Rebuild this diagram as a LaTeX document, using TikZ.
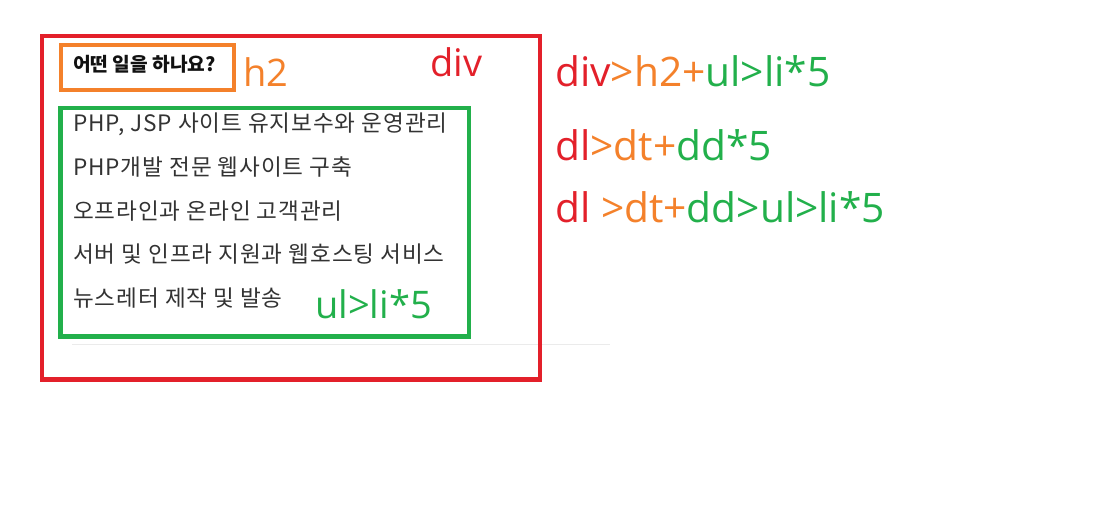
\documentclass[tikz,border=0pt]{standalone}
\usepackage{fontspec}
\setmainfont{Noto Sans CJK KR}
\newfontfamily\lab{Open Sans}
\definecolor{cred}{HTML}{E3202A}
\definecolor{corg}{HTML}{F4812B}
\definecolor{cgrn}{HTML}{22B04B}
\definecolor{ctxt}{HTML}{333333}
\definecolor{ctitle}{HTML}{111111}
\tikzset{
  box/.style={draw=#1, line width=4.5pt, inner sep=0pt, anchor=north west},
  item/.style={anchor=base west, inner sep=0pt, text=ctxt, font=\fontsize{22.6}{24}\selectfont\addfontfeatures{LetterSpace=4}},
  lbl/.style={anchor=base west, inner sep=0pt, font=\lab\fontsize{38}{40}\selectfont},
  code/.style={anchor=base west, inner sep=0pt, font=\lab\fontsize{40.7}{44}\selectfont},
}
\begin{document}
\begin{tikzpicture}[x=1pt,y=-1pt]
\useasboundingbox[fill=white] (0,0) rectangle (1119,511);
% separator line
\coordinate (sepL) at (72,344.3);
\coordinate (sepR) at (610,344.3);
\draw[black!8, line width=1pt] (sepL) -- (sepR);
% boxes
\node[box=cred, minimum width=498pt, minimum height=343pt] (div) at (39.5,34) {};
\node[box=corg, minimum width=173pt, minimum height=44.5pt] (h2box) at (58.5,43) {};
\node[box=cgrn, minimum width=408.5pt, minimum height=228.5pt] (ulbox) at (58,105.5) {};
% title
\node[anchor=base west, inner sep=0pt, text=ctitle, font=\bfseries\fontsize{19.2}{22}\selectfont] (title) at (73,71) {어떤 일을 하나요?};
% list
\node[item] (li1) at (73,131) {PHP, JSP 사이트 유지보수와 운영관리};
\node[item] (li2) at (73,175) {PHP개발 전문 웹사이트 구축};
\node[item] (li3) at (73,219) {오프라인과 온라인 고객관리};
\node[item] (li4) at (73,262) {서버 및 인프라 지원과 웹호스팅 서비스};
\node[item] (li5) at (73,306) {뉴스레터 제작 및 발송};
% labels
\node[lbl, text=corg] (lh2) at (243,87) {h2};
\node[lbl, text=cred] (ldiv) at (430,77) {div};
\node[lbl, text=cgrn] (lul) at (315,318) {ul>li*5};
% code lines
\node[code] (c1) at (555,87) {\textcolor{cred}{div}\textcolor{corg}{>h2+}\textcolor{cgrn}{ul>li*5}};
\node[code] (c2) at (555,160) {\textcolor{cred}{dl}\textcolor{corg}{>dt+}\textcolor{cgrn}{dd*5}};
\node[code] (c3) at (555,222) {\textcolor{cred}{dl }\textcolor{corg}{>dt+}\textcolor{cgrn}{dd>ul>li*5}};
\end{tikzpicture}
\end{document}
